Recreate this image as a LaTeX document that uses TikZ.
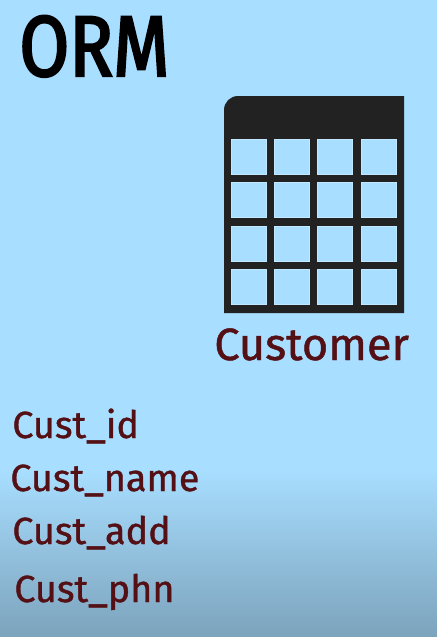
\documentclass[tikz,border=0pt]{standalone}
\usepackage{fontspec}
\usepackage{xcolor}
\setmainfont[FakeBold=1]{Fira Sans}
\newfontfamily\ormfont[FakeStretch=0.84,FakeBold=2.6]{Fira Sans}
\definecolor{skyback}{HTML}{A8DEFF}
\definecolor{skydark}{HTML}{7CA3BC}
\definecolor{tableink}{HTML}{222222}
\definecolor{fieldred}{HTML}{541015}
\tikzset{
  fieldtext/.style={anchor=base west, inner sep=0pt, text=fieldred, font=\fontsize{21.5}{21.5}\selectfont},
  tablecell/.style={fill=skyback, draw=white!30!skyback, line width=0.4pt}
}

\begin{document}
\begin{tikzpicture}[x=0.02cm, y=-0.02cm]
    \useasboundingbox (0,0) rectangle (437,637);
    \fill[skyback] (0,0) rectangle (437,637);
    \shade[top color=skyback, bottom color=skydark] (0,470) rectangle (437,637);
    \node[anchor=base west, inner sep=0pt, font=\fontsize{49}{49}\ormfont] (orm) at (19,76) {ORM};
    \fill[tableink] (224,313) -- (224,110) to[out=90, in=180] (238,96) -- (404,96) -- (404,313) -- cycle;
    \foreach \cx in {231,274,317,361}
      \foreach \cy in {139,182,226,269}
        \draw[tablecell] (\cx,\cy) rectangle ++(35,35);
    \node[fieldtext, font=\fontsize{25.7}{25.7}\selectfont] (customer) at (214,360) {Customer};
    \node[fieldtext] (id) at (12,438) {Cust\_id};
    \node[fieldtext] (name) at (10,491) {Cust\_name};
    \node[fieldtext] (add) at (12,544) {Cust\_add};
    \node[fieldtext] (phn) at (14,602) {Cust\_phn};
  \end{tikzpicture}
\end{document}
